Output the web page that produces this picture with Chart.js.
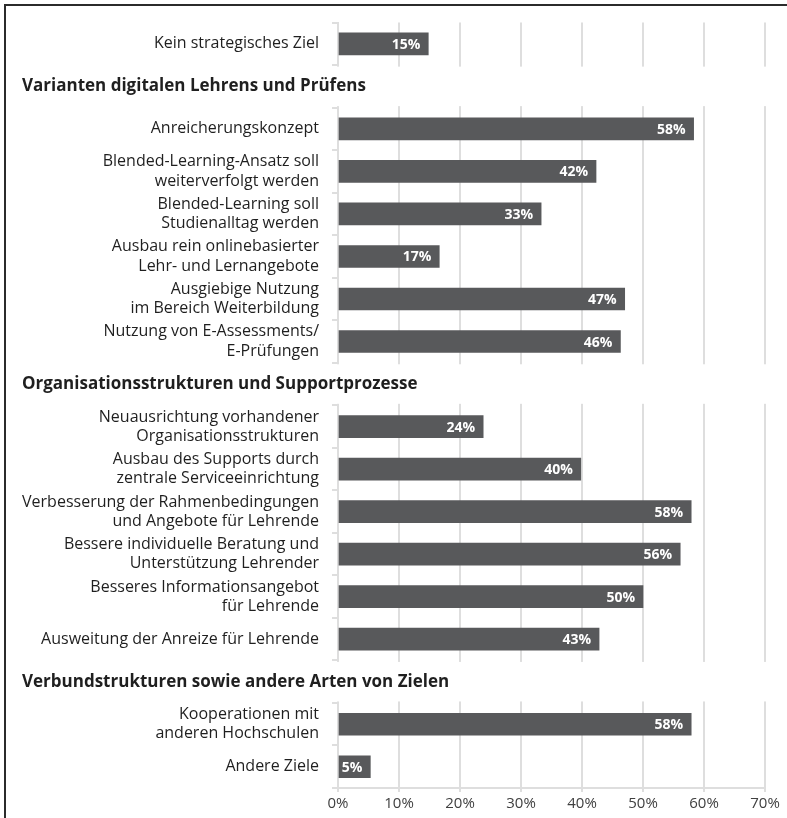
<!DOCTYPE html>
<html>
<head>
<meta charset="utf-8">
<script src="https://cdn.jsdelivr.net/npm/chart.js@4.4.1/dist/chart.umd.min.js"></script>
<style>
  html, body { margin: 0; padding: 0; background: #fff; }
  #wrap { position: relative; width: 787px; height: 818px; }
  #frame { position: absolute; left: 4px; top: 4px; width: 790px; height: 820px;
           border-top: 2px solid #2b2b2b; border-left: 2px solid #2b2b2b; pointer-events: none; }
  canvas { position: absolute; left: 0; top: 0; }
</style>
</head>
<body>
<div id="wrap">
  <canvas id="c" width="787" height="818"></canvas>
  <div id="frame"></div>
</div>
<script>
// Category labels (multi-line labels as arrays); '' marks a section-header row
const categories = [
  'Kein strategisches Ziel',
  '',
  'Anreicherungskonzept',
  ['Blended-Learning-Ansatz soll', 'weiterverfolgt werden'],
  ['Blended-Learning soll', 'Studienalltag werden'],
  ['Ausbau rein onlinebasierter', 'Lehr- und Lernangebote'],
  ['Ausgiebige Nutzung', 'im Bereich Weiterbildung'],
  ['Nutzung von E-Assessments/', 'E-Prüfungen'],
  '',
  ['Neuausrichtung vorhandener', 'Organisationsstrukturen'],
  ['Ausbau des Supports durch', 'zentrale Serviceeinrichtung'],
  ['Verbesserung der Rahmenbedingungen', 'und Angebote für Lehrende'],
  ['Bessere individuelle Beratung und', 'Unterstützung Lehrender'],
  ['Besseres Informationsangebot', 'für Lehrende'],
  'Ausweitung der Anreize für Lehrende',
  '',
  ['Kooperationen mit', 'anderen Hochschulen'],
  'Andere Ziele'
];

// Section titles aligned with the rows above (null = ordinary row)
const sectionTitles = [
  null,
  'Varianten digitalen Lehrens und Prüfens',
  null, null, null, null, null, null,
  'Organisationsstrukturen und Supportprozesse',
  null, null, null, null, null, null,
  'Verbundstrukturen sowie andere Arten von Zielen',
  null, null
];

// Share of institutions (%)
const values = [
  14.8,
  null,
  58.3, 42.3, 33.3, 16.6, 47.0, 46.3,
  null,
  23.8, 39.8, 57.9, 56.1, 50.0, 42.8,
  null,
  57.9, 5.3
];

const xTicks = [0, 10, 20, 30, 40, 50, 60, 70];

const FONT = '"Open Sans"';

const sectionPlugin = {
  id: 'sections',
  beforeDatasetsDraw(chart) {
    const ctx = chart.ctx;
    const y = chart.scales.y;
    const area = chart.chartArea;
    const step = y.getPixelForValue(1) - y.getPixelForValue(0);
    ctx.save();
    ctx.fillStyle = '#ffffff';
    sectionTitles.forEach((t, i) => {
      if (!t) return;
      const c = y.getPixelForValue(i);
      ctx.fillRect(area.left - 12, c - step / 2 + 1.5, area.right - area.left + 20, step - 3);
    });
    ctx.restore();
  },
  afterDatasetsDraw(chart) {
    const ctx = chart.ctx;
    const y = chart.scales.y;
    ctx.save();
    // section headers
    ctx.fillStyle = '#1f1f1f';
    ctx.font = 'bold 17px ' + FONT;
    ctx.textAlign = 'left';
    ctx.textBaseline = 'middle';
    sectionTitles.forEach((t, i) => {
      if (!t) return;
      ctx.fillText(t, 22, y.getPixelForValue(i));
    });
    // value labels inside bars
    const meta = chart.getDatasetMeta(0);
    ctx.fillStyle = '#ffffff';
    ctx.font = 'bold 14px ' + FONT;
    ctx.textAlign = 'right';
    meta.data.forEach((bar, i) => {
      const v = values[i];
      if (v === null || v === undefined) return;
      ctx.fillText(Math.round(v) + '%', bar.x - 8, bar.y + 1);
    });
    ctx.restore();
  }
};

new Chart(document.getElementById('c'), {
  type: 'bar',
  data: {
    labels: categories,
    datasets: [{
      data: values,
      backgroundColor: '#58595b',
      borderWidth: 0,
      barThickness: 22
    }]
  },
  options: {
    indexAxis: 'y',
    responsive: false,
    animation: false,
    devicePixelRatio: 1,
    layout: { padding: { top: 15, right: 22, left: 0, bottom: 0 } },
    plugins: { legend: { display: false }, tooltip: { enabled: false } },
    scales: {
      x: {
        min: 0, max: 70,
        afterBuildTicks(scale) { scale.ticks = xTicks.map(v => ({ value: v })); },
        afterFit(scale) { scale.height = 30; },
        grid: { color: '#dedede', lineWidth: 2, tickLength: 4 },
        border: { color: '#dedede', width: 2 },
        ticks: {
          padding: 3,
          color: '#404040',
          font: { family: FONT, size: 15 },
          callback: v => v + '%'
        }
      },
      y: {
        afterFit(scale) { scale.width = 338; },
        grid: { offset: true, drawOnChartArea: false, drawTicks: true, tickLength: 6, color: '#dedede', lineWidth: 2 },
        border: { color: '#dedede', width: 2 },
        ticks: {
          padding: 13,
          color: '#1f1f1f',
          font: { family: FONT, size: 16, lineHeight: 1.2 },
          autoSkip: false
        }
      }
    }
  },
  plugins: [sectionPlugin]
});
</script>
</body>
</html>
